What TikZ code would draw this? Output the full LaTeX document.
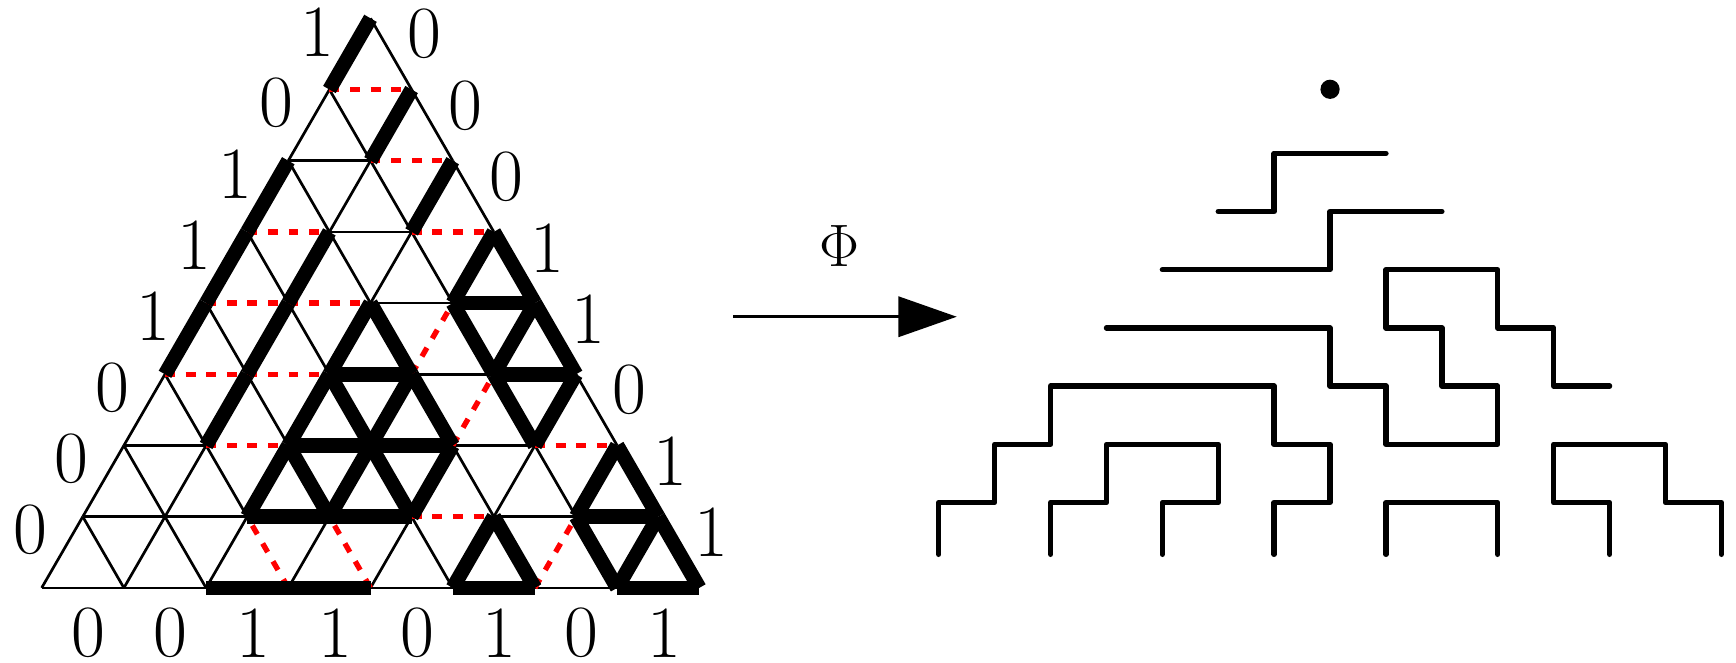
\documentclass[tikz,border=0pt]{standalone}
\usetikzlibrary{arrows.meta}

\begin{document}
\begin{tikzpicture}[
  edge0/.style={line width=0.93pt},
  edge1/.style={line width=5pt},
  rhomb/.style={red, line width=1.85pt, dash pattern=on 3.45pt off 3.7pt},
  lab/.style={font=\fontsize{25.5}{30}\selectfont, inner sep=0pt},
  walk/.style={line width=1.85pt, line cap=round, line join=round},
  ar/.style={-{Triangle[length=7.1mm, width=4.9mm]}, line width=0.9pt}]
\useasboundingbox (-0.507,-0.903) rectangle (20.61,7.151);

% puzzle, in lattice coordinates
\begin{scope}[x={(1cm,0cm)}, y={(0.5cm,0.866cm)}]
\foreach \a/\j in {0/6,1/5,2/4,3/3,0/2,4/2,0/1,1/1,5/1,0/0,1/0,4/0,6/0}
  \draw[edge0] (\a,\j) -- ++(1,0);
\foreach \a/\j in {0/6,1/5,2/4,0/2,0/1,1/1,5/1,0/0,1/0,2/0,3/0,4/0}
  \draw[edge0] (\a,\j) -- ++(0,1);
\foreach \a/\j in {0/7,0/6,1/6,0/5,1/5,2/5,0/4,1/4,2/4,0/3,1/3,0/2,1/2,5/2,0/1,1/1,4/1,5/1,0/0,1/0,4/0}
  \draw[edge0] ({\a+1},\j) -- ++(-1,1);

\foreach \a/\j in {0/7,1/6,0/5,2/5,0/4,1/4,0/3,1/3,1/2,5/2,4/1}
  \draw[rhomb] (\a,\j) -- ++(1,0);
\foreach \a/\j in {3/3,4/2,6/0}
  \draw[rhomb] (\a,\j) -- ++(0,1);
\foreach \a/\j in {2/0,3/0}
  \draw[rhomb] ({\a+1},\j) -- ++(-1,1);

\foreach \a/\j in {3/4,2/3,4/3,2/2,3/2,2/1,3/1,6/1,2/0,3/0,5/0,7/0}
  \draw[edge1] (\a,\j) -- ++(1,0);
\foreach \a/\j in {0/7,1/6,0/5,2/5,0/4,1/4,3/4,0/3,1/3,2/3,4/3,1/2,2/2,3/2,5/2,2/1,3/1,4/1,6/1,5/0,7/0}
  \draw[edge1] (\a,\j) -- ++(0,1);
\foreach \a/\j in {3/4,2/3,3/3,4/3,2/2,3/2,4/2,2/1,3/1,6/1,5/0,6/0,7/0}
  \draw[edge1] ({\a+1},\j) -- ++(-1,1);
\end{scope}

% boundary labels
\foreach \k/\v in {0/0,1/0,2/0,3/1,4/1,5/1,6/0,7/1}
  \node[lab] (west\k) at ({0.5*\k+0.25-0.39},{0.866*\k+0.433+0.27}) {\v};
\foreach \k/\v in {0/1,1/1,2/0,3/1,4/1,5/0,6/0,7/0}
  \node[lab] (east\k) at ({7.75-0.5*\k+0.40},{0.866*\k+0.433+0.24}) {\v};
\foreach \k/\v in {0/0,1/0,2/1,3/1,4/0,5/1,6/0,7/1}
  \node[lab] (south\k) at ({\k+0.57},-0.545) {\v};

% the map
\coordinate (src) at (8.414,3.298);
\coordinate (dst) at (11.131,3.298);
\draw[ar] (src) -- (dst);
\node[font=\fontsize{21}{25}\selectfont, inner sep=0pt] (phi) at (9.70,4.158) {$\Phi$};

% lattice paths
\begin{scope}[shift={(10.912,1.038)}, x=0.68cm, y=0.708cm]
\fill (7,7.1) circle (0.117cm);
\draw[walk] (5,5) -- (6,5) -- (6,6) -- (8,6);
\draw[walk] (4,4) -- (7,4) -- (7,5) -- (9,5);
\draw[walk] (3,3) -| (7,2) -| (8,1) -| (10,2) -| (9,3) -| (8,4) -| (10,3) -| (11,2) -- (12,2);
\draw[walk] (0,-0.89) |- (1,0) |- (2,1) |- (6,2) |- (7,1) |- (6,0) -- (6,-0.89);
\draw[walk] (2,-0.89) |- (3,0) |- (5,1) |- (4,0) -- (4,-0.89);
\draw[walk] (8,-0.89) |- (10,0) -- (10,-0.89);
\draw[walk] (12,-0.89) |- (11,0) |- (13,1) |- (14,0) -- (14,-0.89);
\end{scope}
\end{tikzpicture}
\end{document}
